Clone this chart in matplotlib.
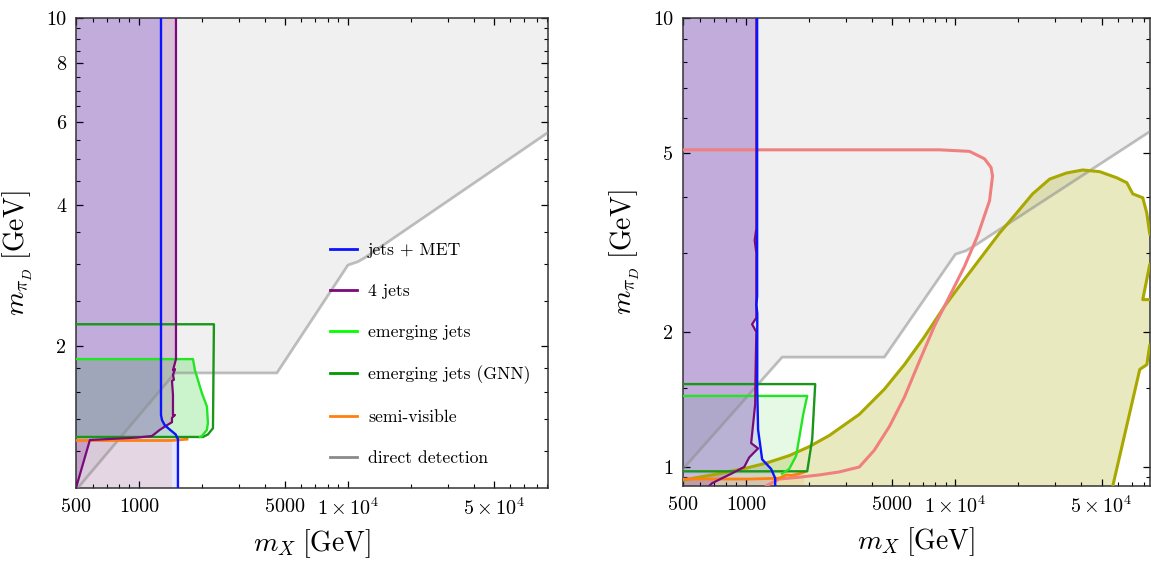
import numpy as np
import matplotlib
matplotlib.use('Agg')
import matplotlib.pyplot as plt
from matplotlib.lines import Line2D
from matplotlib.ticker import FixedLocator, FixedFormatter, NullFormatter

plt.rcParams['font.family'] = 'serif'
plt.rcParams['font.serif'] = ['cmr10', 'DejaVu Serif']
plt.rcParams['mathtext.fontset'] = 'cm'
plt.rcParams['axes.unicode_minus'] = False

# direct detection boundary (shared by both panels), m_X [GeV] vs m_piD [GeV]
dd_x = [400, 1488, 4577, 10010, 11180, 12070, 120000]
dd_y = [0.88, 1.757, 1.757, 2.98, 3.03, 3.09, 6.21]

# left panel contours
met_l_x = [1276, 1276, 1290, 1330, 1409, 1500, 1538, 1538]
met_l_y = [10.5, 1.43, 1.395, 1.36, 1.33, 1.30, 1.27, 0.9]
fourj_l_x = [1505, 1505, 1456, 1488, 1456, 1472, 1440, 1456, 1456, 1488, 1440, 1440, 1362, 1261, 1155, 980, 583, 500]
fourj_l_y = [10.5, 1.88, 1.78, 1.79, 1.74, 1.70, 1.69, 1.58, 1.43, 1.43, 1.41, 1.38, 1.36, 1.33, 1.29, 1.28, 1.265, 1.0]
emj_l_x = [500, 1815, 1855, 2004, 2117, 2140, 2117, 2004, 1960, 500]
emj_l_y = [1.88, 1.88, 1.78, 1.59, 1.49, 1.375, 1.33, 1.29, 1.284, 1.284]
gnn_l_x = [500, 2286, 2262, 2140, 2026, 500]
gnn_l_y = [2.23, 2.23, 1.34, 1.30, 1.284, 1.284]
semi_l_x = [500, 1440, 1700]
semi_l_y = [1.262, 1.262, 1.27]

# right panel contours
met_r_x = [1130, 1130, 1120, 1132, 1131, 1142, 1194, 1318, 1378, 1378]
met_r_y = [10.5, 2.4, 2.3, 2.2, 1.5, 1.21, 1.04, 0.99, 0.944, 0.88]
fourj_r_x = [1120, 1120, 1100, 1120, 1120, 1069, 1120, 1110, 1106, 1058, 1142, 1035, 980, 850, 768, 688, 640]
fourj_r_y = [10.5, 3.4, 3.2, 3.0, 2.15, 2.08, 2.0, 1.6, 1.38, 1.13, 1.10, 1.05, 1.0, 0.966, 0.944, 0.92, 0.89]
emj_r_x = [500, 1960, 1876, 1737, 1608, 1488, 500]
emj_r_y = [1.44, 1.44, 1.31, 1.06, 0.99, 0.966, 0.966]
gnn_r_x = [500, 2140, 2071, 1960, 500]
gnn_r_y = [1.53, 1.53, 1.155, 0.978, 0.978]
semi_r_x = [500, 1035, 1440, 1555, 1655, 1795, 1900]
semi_r_y = [0.94, 0.94, 0.944, 0.96, 0.958, 0.966, 0.975]
sal_x = [500, 8393, 11680, 13780, 14800, 15050, 14560, 12750, 11060, 9370, 7940, 6730, 5705, 4835,
         4100, 3476, 2789, 2237, 1795, 1440, 1261, 1200]
sal_y = [5.09, 5.09, 5.05, 4.86, 4.65, 4.45, 3.92, 3.27, 2.80, 2.40, 2.06, 1.72, 1.43, 1.23,
         1.09, 1.0, 0.975, 0.96, 0.949, 0.94, 0.91, 0.89]
oli_x = [400, 500, 596, 743, 1000, 1247, 1608, 2004, 2497, 3476, 4577, 5705, 7114, 8869, 11060, 13780,
         16250, 19610, 23380, 28200, 34000, 40560, 48900, 58990, 65880, 70370, 78540, 82080, 84840,
         95000, 95000, 84840, 78540, 95000, 95000, 84840, 82080, 75990, 56460, 54000]
oli_y = [0.85, 0.935, 0.949, 0.966, 0.994, 1.02, 1.06, 1.11, 1.175, 1.31, 1.49, 1.69, 1.95, 2.28, 2.62, 3.00,
         3.32, 3.68, 4.06, 4.38, 4.52, 4.59, 4.55, 4.41, 4.30, 4.06, 3.98, 3.68, 3.30,
         3.30, 2.83, 2.83, 2.36, 2.36, 1.87, 1.87, 1.69, 1.65, 0.907, 0.85]

# ticks
x_major = [500, 1000, 5000, 1e4, 5e4]
x_labels = ['500', '1000', '5000', r'$1\times10^4$', r'$5\times10^4$']
x_minor = [600, 700, 800, 900, 2000, 3000, 4000, 6000, 7000, 8000, 9000,
           2e4, 3e4, 4e4, 6e4, 7e4, 8e4, 9e4]
yl_major = [2, 4, 6, 8, 10]
yl_minor = [1.2, 1.4, 1.6, 1.8, 2.5, 3, 3.5, 4.5, 5, 5.5, 6.5, 7, 7.5, 8.5, 9, 9.5]
yr_major = [1, 2, 5, 10]
yr_minor = [0.95, 1.5, 3, 4, 6, 7, 8, 9]

C_MET = '#0a14ff'
C_4J = '#7a0a7a'
C_EMJ = '#22e622'
C_GNN = '#1a961a'
C_SEMI = '#ff800e'
C_DD = '#8c8c8c'
C_SAL = '#f08080'
C_OLI = '#a8a800'


def left_fill(ax, x, y, color, alpha, z):
    """Fill the region between a boundary and the left edge of the plot."""
    ax.fill(np.r_[x, 300, 300], np.r_[y, y[-1], y[0]], color=color, alpha=alpha, lw=0, zorder=z)


def style_axis(ax, xlim, ylim, y_major, y_minor):
    ax.set_xscale('log')
    ax.set_yscale('log')
    ax.set_xlim(xlim)
    ax.set_ylim(ylim)
    ax.xaxis.set_major_locator(FixedLocator(x_major))
    ax.xaxis.set_major_formatter(FixedFormatter(x_labels))
    ax.xaxis.set_minor_locator(FixedLocator(x_minor))
    ax.xaxis.set_minor_formatter(NullFormatter())
    ax.yaxis.set_major_locator(FixedLocator(y_major))
    ax.yaxis.set_major_formatter(FixedFormatter([str(v) for v in y_major]))
    ax.yaxis.set_minor_locator(FixedLocator(y_minor))
    ax.yaxis.set_minor_formatter(NullFormatter())
    ax.tick_params(which='both', direction='in', top=True, right=True, labelsize=14.5, pad=7)
    ax.tick_params(which='major', length=5, width=0.9)
    ax.tick_params(which='minor', length=2.8, width=0.8)
    for s in ax.spines.values():
        s.set_linewidth(1.1)
        s.set_color('#333333')
    ax.set_xlabel(r'$m_X\;[\mathrm{GeV}]$', fontsize=20, labelpad=6)
    ax.set_ylabel(r'$m_{\pi_D}\;[\mathrm{GeV}]$', fontsize=20, labelpad=8)


fig = plt.figure(figsize=(11.51, 5.65), dpi=100)
ax1 = fig.add_axes([0.066, 0.1363, 0.410, 0.832])
ax2 = fig.add_axes([0.5934, 0.1398, 0.4057, 0.828])

# ---- left panel ----
ax = ax1
ax.fill_between(dd_x, dd_y, 20, color='#f0f0f0', lw=0, zorder=0.5)
ax.fill([500, 500, 1440, 1440], [0.8, 1.262, 1.262, 0.8], color=C_SEMI, alpha=0.12, lw=0, zorder=1)
ax.fill(emj_l_x, emj_l_y, color='#00c800', alpha=0.2, lw=0, zorder=1.2)
left_fill(ax, fourj_l_x, fourj_l_y, '#800080', 0.2, 1.4)
left_fill(ax, met_l_x, met_l_y, '#0000ff', 0.1, 1.6)
ax.plot(dd_x, dd_y, color=C_DD, alpha=0.55, lw=2, zorder=3)
ax.plot(semi_l_x, semi_l_y, color=C_SEMI, lw=2, zorder=3.2)
ax.plot(gnn_l_x, gnn_l_y, color=C_GNN, lw=1.7, zorder=3.4)
ax.plot(emj_l_x[:-1], emj_l_y[:-1], color=C_EMJ, lw=1.7, zorder=3.5)
ax.plot(fourj_l_x, fourj_l_y, color=C_4J, lw=1.6, zorder=3.7)
ax.plot(met_l_x, met_l_y, color=C_MET, lw=1.7, zorder=3.9)
style_axis(ax, (500, 9.06e4), (1.0, 10), yl_major, yl_minor)

handles = [Line2D([], [], color=C_MET, lw=2), Line2D([], [], color=C_4J, lw=2),
           Line2D([], [], color='#00ff00', lw=2), Line2D([], [], color='#009900', lw=2),
           Line2D([], [], color=C_SEMI, lw=2), Line2D([], [], color='#8a8a8a', lw=2)]
labels = ['jets + MET', '4 jets', 'emerging jets', 'emerging jets (GNN)', 'semi-visible', 'direct detection']
ax.legend(handles, labels, loc='upper left', bbox_to_anchor=(0.505, 0.555), frameon=False,
          fontsize=12.7, labelspacing=1.45, handlelength=1.55, handletextpad=0.6)

# ---- right panel ----
ax = ax2
ax.fill_between(dd_x, dd_y, 20, color='#f0f0f0', lw=0, zorder=0.5)
ax.fill(oli_x, oli_y, color=C_OLI, alpha=0.25, lw=0, zorder=0.9)
ax.fill(np.r_[semi_r_x, 1900, 500], np.r_[semi_r_y, 0.85, 0.85], color=C_SEMI, alpha=0.12, lw=0, zorder=1)
ax.fill(emj_r_x, emj_r_y, color='#00c800', alpha=0.1, lw=0, zorder=1.2)
left_fill(ax, fourj_r_x, fourj_r_y, '#800080', 0.2, 1.4)
left_fill(ax, met_r_x, met_r_y, '#0000ff', 0.1, 1.6)
ax.plot(dd_x, dd_y, color=C_DD, alpha=0.55, lw=2, zorder=3)
ax.plot(oli_x[1:], oli_y[1:], color=C_OLI, lw=2.2, zorder=3.1)
ax.plot(sal_x, sal_y, color=C_SAL, lw=2.2, zorder=3.15)
ax.plot(semi_r_x, semi_r_y, color=C_SEMI, lw=2, zorder=3.2)
ax.plot(gnn_r_x, gnn_r_y, color=C_GNN, lw=1.7, zorder=3.4)
ax.plot(emj_r_x[:-1], emj_r_y[:-1], color=C_EMJ, lw=1.7, zorder=3.5)
ax.plot(fourj_r_x, fourj_r_y, color=C_4J, lw=1.6, zorder=3.7)
ax.plot(met_r_x, met_r_y, color=C_MET, lw=1.7, zorder=3.9)
style_axis(ax, (500, 8.5e4), (0.907, 10), yr_major, yr_minor)

plt.savefig('out.png', dpi=100)
